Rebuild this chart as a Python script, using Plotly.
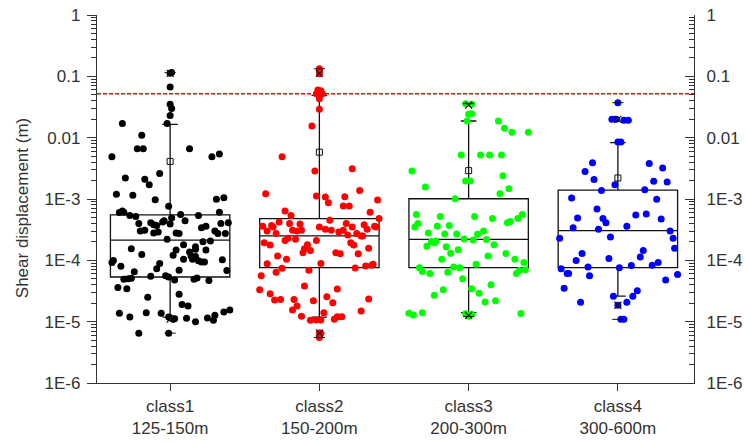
import plotly.graph_objects as go

# ---------------------------------------------------------------------------
# Data: shear displacement (m) per depth class.
# Each observation is (horizontal jitter within the class, displacement).
# ---------------------------------------------------------------------------
categories = ["class1<br>125-150m", "class2<br>150-200m",
              "class3<br>200-300m", "class4<br>300-600m"]
point_colors = ["#000000", "#ff0000", "#00ff00", "#0000ff"]

class1_obs = [
    (0.00, 0.112), (0.01, 0.115), (0.00, 0.067), (0.00, 0.035), (0.01, 0.030),
    (0.00, 0.023), (-0.02, 0.017), (-0.32, 0.017), (-0.19, 0.011), (-0.22, 0.0066),
    (-0.18, 0.0066), (0.13, 0.0066), (-0.39, 0.0049), (0.28, 0.0049), (0.33, 0.0054),
    (-0.07, 0.0026), (-0.30, 0.0022), (-0.17, 0.0021), (-0.14, 0.0017), (-0.36, 0.0012),
    (-0.25, 0.00115), (-0.10, 0.00097), (0.31, 0.00099), (0.36, 0.00105), (-0.01, 7.6e-4),
    (-0.32, 6.4e-4), (-0.34, 6.0e-4), (-0.31, 6.1e-4), (-0.27, 5.4e-4), (-0.23, 5.2e-4),
    (0.07, 5.6e-4), (0.19, 5.4e-4), (0.33, 6.1e-4), (0.01, 4.9e-4), (0.10, 4.4e-4),
    (-0.21, 4.0e-4), (-0.13, 4.1e-4), (-0.11, 3.8e-4), (-0.09, 3.7e-4), (-0.05, 4.2e-4),
    (-0.04, 4.4e-4), (0.00, 3.9e-4), (0.04, 2.8e-4), (0.06, 2.75e-4), (-0.20, 3.0e-4),
    (-0.17, 3.1e-4), (-0.08, 2.9e-4), (-0.11, 2.8e-4), (0.21, 3.4e-4), (0.24, 3.6e-4),
    (0.30, 3.0e-4), (0.32, 2.75e-4), (0.37, 2.75e-4), (0.34, 4.0e-4), (0.39, 4.1e-4),
    (-0.02, 2.2e-4), (0.22, 2.0e-4), (0.27, 2.07e-4), (0.09, 1.8e-4), (-0.26, 1.55e-4),
    (0.04, 1.47e-4), (0.17, 1.67e-4), (0.17, 1.51e-4), (0.24, 1.47e-4), (0.13, 1.37e-4),
    (0.14, 1.18e-4), (-0.19, 1.24e-4), (0.02, 1.21e-4), (0.09, 1.04e-4), (0.15, 1.04e-4),
    (0.19, 9.8e-5), (0.21, 9.4e-5), (0.23, 9.4e-5), (0.17, 1.15e-4), (-0.38, 9.9e-5),
    (-0.39, 9.2e-5), (-0.07, 8.9e-5), (0.35, 1.02e-4), (-0.33, 8.0e-5), (-0.09, 7.3e-5),
    (0.06, 6.9e-5), (-0.24, 6.5e-5), (0.38, 6.8e-5), (-0.13, 5.5e-5), (-0.03, 5.6e-5),
    (-0.01, 5.35e-5), (-0.31, 4.9e-5), (-0.28, 5.0e-5), (-0.26, 5.1e-5), (0.03, 4.8e-5),
    (0.16, 4.9e-5), (0.18, 5.15e-5), (0.26, 4.7e-5), (-0.35, 3.6e-5), (-0.29, 3.45e-5),
    (0.06, 2.8e-5), (-0.15, 2.5e-5), (0.08, 1.9e-5), (0.12, 1.8e-5), (-0.34, 1.37e-5),
    (-0.27, 1.19e-5), (-0.16, 1.4e-5), (-0.06, 1.37e-5), (-0.01, 1.19e-5), (0.00, 1.16e-5),
    (0.02, 1.09e-5), (0.03, 1.12e-5), (0.11, 1.14e-5), (0.17, 1.0e-5), (0.25, 1.15e-5),
    (0.29, 1.05e-5), (0.30, 1.27e-5), (0.36, 1.44e-5), (0.40, 1.55e-5), (-0.21, 6.5e-6),
    (-0.01, 6.5e-6),
]

class2_obs = [
    (0.00, 0.133), (0.00, 0.120), (0.00, 0.110), (-0.01, 0.060), (0.01, 0.058),
    (-0.02, 0.052), (0.02, 0.052), (0.00, 0.043), (0.00, 0.029), (-0.05, 0.0155),
    (-0.25, 0.0049), (-0.03, 0.00286), (0.22, 0.00312), (0.27, 0.00138), (-0.36, 0.00122),
    (-0.02, 0.00112), (0.04, 0.00108), (0.06, 8.7e-4), (0.17, 0.00109), (0.16, 7.7e-4),
    (0.20, 7.7e-4), (0.39, 9.6e-4), (-0.23, 6.4e-4), (-0.19, 5.4e-4), (0.34, 6.1e-4),
    (-0.38, 3.6e-4), (-0.32, 3.7e-4), (-0.31, 3.5e-4), (-0.35, 3.0e-4), (-0.29, 2.75e-4),
    (-0.27, 4.2e-4), (-0.20, 4.0e-4), (-0.18, 3.1e-4), (-0.13, 3.9e-4), (-0.15, 3.0e-4),
    (-0.12, 3.1e-4), (0.00, 3.5e-4), (0.04, 3.2e-4), (0.08, 3.1e-4), (0.07, 4.5e-4),
    (0.13, 2.9e-4), (0.16, 3.1e-4), (0.18, 4.0e-4), (0.22, 3.5e-4), (0.19, 2.6e-4),
    (0.25, 2.75e-4), (0.28, 2.5e-4), (0.29, 2.5e-4), (0.30, 3.8e-4), (0.32, 3.2e-4),
    (0.37, 3.6e-4), (0.38, 3.5e-4), (0.40, 4.8e-4), (-0.23, 2.1e-4), (-0.21, 2.3e-4),
    (-0.16, 2.2e-4), (-0.02, 2.1e-4), (-0.37, 1.94e-4), (-0.33, 1.78e-4), (-0.08, 1.8e-4),
    (-0.10, 1.55e-4), (-0.11, 1.33e-4), (-0.06, 1.45e-4), (0.11, 1.33e-4), (0.14, 1.28e-4),
    (0.21, 1.94e-4), (0.23, 1.78e-4), (0.26, 1.28e-4), (0.33, 1.57e-4), (-0.28, 1.18e-4),
    (-0.22, 1.04e-4), (-0.35, 8.8e-5), (0.01, 8.9e-5), (-0.29, 6.4e-5), (-0.25, 7.4e-5),
    (-0.07, 6.9e-5), (0.24, 7.5e-5), (0.31, 8.1e-5), (0.35, 8.3e-5), (0.36, 8.6e-5),
    (-0.39, 5.6e-5), (-0.40, 3.3e-5), (-0.33, 2.86e-5), (-0.30, 2.25e-5), (-0.26, 2.3e-5),
    (-0.10, 3.8e-5), (0.12, 3.4e-5), (-0.17, 2.3e-5), (-0.04, 2.2e-5), (0.05, 2.56e-5),
    (0.09, 2.04e-5), (0.33, 2.35e-5), (-0.18, 1.55e-5), (-0.15, 1.8e-5), (-0.12, 1.22e-5),
    (-0.06, 1.05e-5), (-0.02, 1.06e-5), (0.01, 1.06e-5), (0.03, 1.4e-5), (0.10, 1.09e-5),
    (0.12, 1.2e-5), (0.15, 1.2e-5), (0.28, 1.49e-5), (0.00, 6.6e-6), (0.01, 6.5e-6),
    (0.00, 5.5e-6),
]

class3_obs = [
    (-0.02, 0.0358), (0.02, 0.035), (0.00, 0.024), (0.02, 0.0245), (-0.01, 0.0187),
    (0.20, 0.0187), (0.24, 0.0142), (0.29, 0.0122), (0.40, 0.0122), (-0.05, 0.0052),
    (0.08, 0.0052), (0.14, 0.0052), (0.22, 0.0052), (-0.38, 0.00286), (-0.02, 0.00197),
    (0.01, 0.00197), (0.23, 0.0024), (-0.29, 0.00157), (0.27, 0.00147), (0.21, 0.00122),
    (-0.09, 0.00101), (-0.35, 5.6e-4), (-0.19, 5.2e-4), (0.04, 5.2e-4), (0.16, 4.8e-4),
    (0.36, 5.6e-4), (0.33, 4.8e-4), (-0.34, 4.0e-4), (-0.36, 3.5e-4), (-0.21, 3.6e-4),
    (-0.13, 3.7e-4), (0.26, 4.1e-4), (0.28, 4.3e-4), (-0.27, 2.8e-4), (-0.16, 2.7e-4),
    (-0.08, 2.7e-4), (0.06, 2.65e-4), (0.10, 3.0e-4), (-0.03, 2.23e-4), (0.03, 2.15e-4),
    (0.12, 2.18e-4), (-0.25, 2.0e-4), (-0.23, 1.94e-4), (-0.22, 2.07e-4), (-0.28, 1.69e-4),
    (-0.15, 1.67e-4), (0.17, 1.8e-4), (-0.07, 1.49e-4), (-0.12, 1.30e-4), (0.13, 1.18e-4),
    (0.25, 1.29e-4), (-0.18, 1.04e-4), (0.31, 1.04e-4), (0.05, 8.6e-5), (0.37, 9.2e-5),
    (-0.33, 7.6e-5), (-0.31, 6.6e-5), (-0.26, 6.1e-5), (-0.14, 6.4e-5), (-0.10, 7.8e-5),
    (-0.06, 7.6e-5), (0.32, 6.1e-5), (0.34, 6.8e-5), (0.38, 7.0e-5), (-0.04, 5.0e-5),
    (0.02, 3.45e-5), (-0.17, 3.3e-5), (-0.23, 2.7e-5), (0.15, 4.0e-5), (0.07, 2.9e-5),
    (0.11, 2.1e-5), (0.18, 2.2e-5), (-0.40, 1.37e-5), (-0.37, 1.28e-5), (-0.31, 1.4e-5),
    (-0.02, 1.35e-5), (0.00, 1.22e-5), (0.02, 1.32e-5), (0.35, 1.36e-5),
]

class4_obs = [
    (0.00, 0.0372), (-0.04, 0.0199), (-0.01, 0.0199), (0.04, 0.0193), (0.07, 0.0193),
    (0.00, 0.0085), (0.02, 0.0085), (-0.17, 0.0039), (-0.22, 0.0028), (0.21, 0.0038),
    (0.30, 0.0032), (-0.16, 0.00207), (0.24, 0.00194), (0.33, 0.0019), (-0.02, 0.00171),
    (-0.11, 0.00138), (0.18, 0.00142), (-0.31, 0.00104), (0.26, 0.00099), (-0.14, 6.9e-4),
    (0.12, 5.5e-4), (0.19, 5.7e-4), (-0.27, 4.9e-4), (-0.10, 4.8e-4), (-0.08, 4.1e-4),
    (0.29, 4.7e-4), (-0.30, 3.4e-4), (0.06, 3.6e-4), (-0.13, 3.2e-4), (0.35, 3.0e-4),
    (-0.39, 2.3e-4), (-0.05, 2.4e-4), (0.37, 2.3e-4), (0.38, 1.57e-4), (0.17, 1.44e-4),
    (-0.24, 1.29e-4), (0.15, 1.13e-4), (-0.28, 9.9e-5), (-0.06, 1.07e-4), (-0.38, 7.3e-5),
    (-0.20, 7.8e-5), (0.01, 7.6e-5), (0.09, 8.2e-5), (0.23, 8.3e-5), (0.27, 9.2e-5),
    (-0.34, 6.1e-5), (-0.33, 6.1e-5), (-0.19, 5.6e-5), (0.32, 4.8e-5), (0.40, 5.9e-5),
    (-0.36, 3.5e-5), (-0.03, 2.6e-5), (-0.25, 2.07e-5), (0.00, 1.85e-5), (0.06, 2.07e-5),
    (0.10, 2.6e-5), (0.13, 3.2e-5), (0.02, 1.09e-5), (0.04, 1.09e-5),
]

observations = [class1_obs, class2_obs, class3_obs, class4_obs]

# Box statistics per class (m)
box_q1 = [5.35e-5, 7.6e-5, 7.6e-5, 7.6e-5]
box_median = [2.14e-4, 2.5e-4, 2.2e-4, 3.05e-4]
box_q3 = [5.5e-4, 4.8e-4, 1.01e-3, 1.4e-3]
whisker_low = [1.19e-5, 1.19e-5, 1.4e-5, 2.6e-5]
whisker_high = [0.0165, 0.049, 0.0187, 0.0083]
class_mean = [0.0041, 0.0058, 0.0029, 0.0022]
pct_1 = [1.1e-5, 6.5e-6, 1.27e-5, 1.85e-5]
pct_99 = [0.112, 0.112, 0.034, 0.0199]
class_min = [6.5e-6, 5.5e-6, 1.22e-5, 1.09e-5]
class_max = [0.115, 0.133, 0.0358, 0.0372]

threshold = 0.052  # critical displacement level

y_tick_vals = [1, 0.1, 0.01, 1e-3, 1e-4, 1e-5, 1e-6]
y_tick_text = ["1", "0.1", "0.01", "1E-3", "1E-4", "1E-5", "1E-6"]

# ---------------------------------------------------------------------------
FONT = "Liberation Sans, Arial, sans-serif"
TXT = "#333333"
AX = "#333333"
x_range = [-0.49, 3.51]
positions = list(range(len(categories)))

fig = go.Figure()

# jittered observations
for i, obs in enumerate(observations):
    jit = [o[0] for o in obs]
    vals = [o[1] for o in obs]
    fig.add_trace(go.Scatter(
        x=[positions[i] + j for j in jit], y=vals, mode="markers",
        marker=dict(color=point_colors[i], size=7, line=dict(width=0)),
        showlegend=False, hoverinfo="y"))

# box-and-whisker summaries
for i in positions:
    fig.add_trace(go.Box(
        x=[i], q1=[box_q1[i]], median=[box_median[i]], q3=[box_q3[i]],
        lowerfence=[whisker_low[i]], upperfence=[whisker_high[i]],
        width=0.8, whiskerwidth=0.13, boxpoints=False,
        fillcolor="rgba(0,0,0,0)", line=dict(color="#111111", width=1.3),
        showlegend=False))

# mean (open square), 1 % / 99 % (crosses), min / max (dashes)
fig.add_trace(go.Scatter(
    x=positions, y=class_mean, mode="markers",
    marker=dict(symbol="square-open", size=6, color="#111111", line=dict(width=1)),
    showlegend=False))
fig.add_trace(go.Scatter(
    x=positions + positions, y=pct_1 + pct_99, mode="markers",
    marker=dict(symbol="x-thin-open", size=7, color="#111111", line=dict(width=1.2, color="#111111")),
    showlegend=False))
fig.add_trace(go.Scatter(
    x=positions + positions, y=class_min + class_max, mode="markers",
    marker=dict(symbol="line-ew-open", size=8, color="#111111", line=dict(width=1, color="#111111")),
    showlegend=False))

# threshold line (drawn on the mirrored right axis, same scale)
fig.add_trace(go.Scatter(
    x=x_range, y=[threshold, threshold], mode="lines", yaxis="y2",
    line=dict(color="#ff0000", width=1.3, dash="4px,2px"),
    showlegend=False, hoverinfo="skip"))

minor_vals = [m * 10 ** e for e in range(-6, 0) for m in range(2, 10)]

common_y = dict(
    type="log", range=[-6, 0], tickmode="array",
    tickvals=y_tick_vals, ticktext=y_tick_text, automargin=False,
    showgrid=False, zeroline=False, showline=True,
    linecolor=AX, linewidth=1.3, ticklen=9, tickwidth=1.2, tickcolor=AX,
    tickfont=dict(family=FONT, size=17, color=TXT),
)

fig.update_layout(
    template="none",
    width=745, height=443,
    margin=dict(l=97, r=51, t=15, b=60, autoexpand=False),
    paper_bgcolor="white", plot_bgcolor="white",
    boxmode="overlay",
    font=dict(family=FONT, size=17, color=TXT),
    xaxis=dict(
        range=x_range, tickmode="array", tickvals=positions, ticktext=categories,
        automargin=False,
        showgrid=False, zeroline=False, showline=True, linecolor=AX, linewidth=1.3,
        ticks="outside", ticklen=7, tickwidth=1.2, tickcolor=AX,
        tickfont=dict(family=FONT, size=17, color=TXT)),
    yaxis=dict(**common_y, side="left", ticks="outside", ticklabelstandoff=3,
               minor=dict(tickmode="array", tickvals=minor_vals, ticks="outside",
                          ticklen=5, tickwidth=1, tickcolor=AX, showgrid=False)),
    yaxis2=dict(**common_y, side="right", overlaying="y", anchor="x",
                ticks="inside", ticklabelstandoff=8,
                minor=dict(tickmode="array", tickvals=minor_vals, ticks="inside",
                           ticklen=5, tickwidth=1, tickcolor=AX, showgrid=False)),
    annotations=[dict(
        text="Shear displacement (m)", textangle=-90,
        xref="paper", yref="paper", x=0, y=0.475, xanchor="center", yanchor="middle",
        xshift=-75, showarrow=False,
        font=dict(family=FONT, size=17, color=TXT))],
)

fig.write_html("out.html")
